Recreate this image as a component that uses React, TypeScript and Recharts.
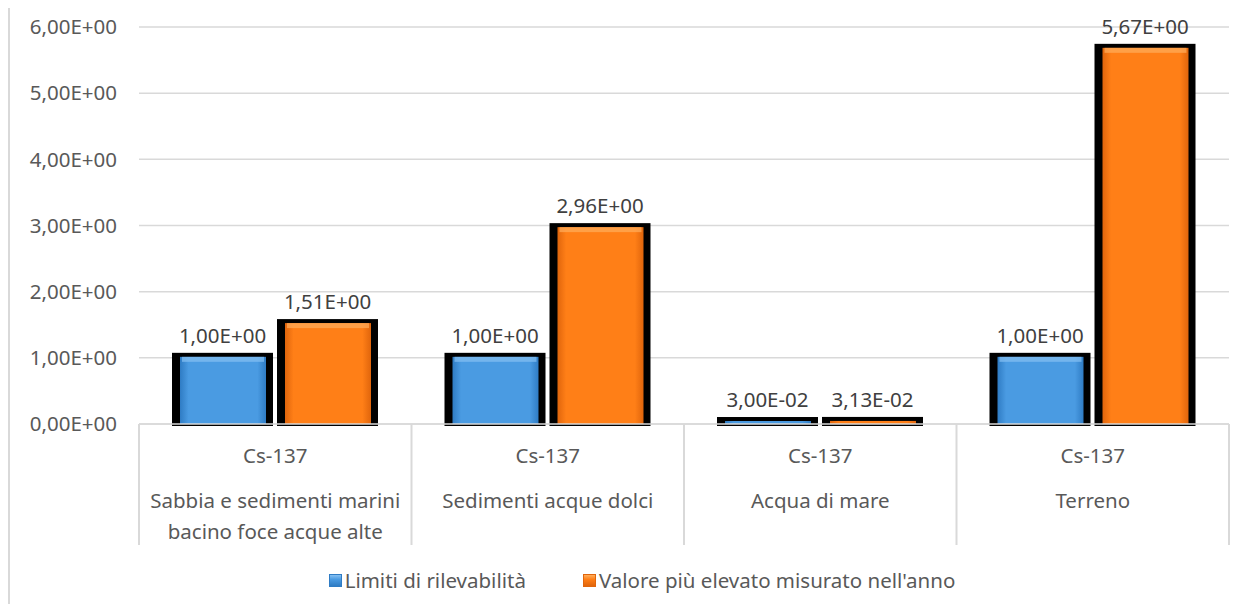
import React from "react"
import { Bar, BarChart, CartesianGrid, LabelList, Legend, XAxis, YAxis } from "recharts"

// Matrici e radionuclide (asse a due livelli)
const matrici = [
  "Sabbia e sedimenti marini\nbacino foce acque alte",
  "Sedimenti acque dolci",
  "Acqua di mare",
  "Terreno",
]
const radionuclidi = ["Cs-137", "Cs-137", "Cs-137", "Cs-137"]

// Valori delle due serie
const limiti = [1.0, 1.0, 0.03, 1.0]
const valoriMax = [1.51, 2.96, 0.0313, 5.67]

const yTicks = [0, 1, 2, 3, 4, 5, 6]

const seriesNames = ["Limiti di rilevabilità", "Valore più elevato misurato nell'anno"]

const data = matrici.map((m, i) => ({
  matrice: m,
  nuclide: radionuclidi[i],
  limiti: limiti[i],
  valore: valoriMax[i],
}))

const W = 1246
const H = 612
const MARGIN = { top: 27, right: 17, left: 0, bottom: 38 }
const Y_AXIS_W = 139
const X_AXIS_H = 120
const LEGEND_H = 30
const PLOT_BOTTOM = H - MARGIN.bottom - X_AXIS_H - LEGEND_H
const BAND = (W - Y_AXIS_W - MARGIN.right) / matrici.length

const FONT = "'Noto Sans', 'Open Sans', sans-serif"
const FS = 20.5
const TEXT = "#595959"
const GRID = "#d9d9d9"

// 1.51 -> "1,51E+00"
function sci(v: number) {
  const [m, e] = v.toExponential(2).split("e")
  const sign = e[0] === "-" ? "-" : "+"
  const digits = e.replace(/[+-]/, "").padStart(2, "0")
  return m.replace(".", ",") + "E" + sign + digits
}

const COLORS = {
  blue: { edge: "#2f7cc4", mid: "#4a9be2", top: "#86c0f2" },
  orange: { edge: "#e0650c", mid: "#ff7f17", top: "#ffae5c" },
}

function makeShape(key: "blue" | "orange") {
  return (props: any) => {
    const { x, y, width, height } = props
    const h = Math.max(height, 0)
    return (
      <g>
        <rect x={x} y={y - 5} width={width} height={h + 7} fill="#000" />
        <rect x={x + 8} y={y - 1} width={width - 15} height={h + 1} fill={`url(#g-${key})`} />
        {h > 8 && (
          <rect x={x + 10} y={y - 1} width={width - 19} height={5} fill={COLORS[key].top} opacity={0.7} />
        )}
      </g>
    )
  }
}

function CategoryTick(props: any) {
  const { x, payload, index } = props
  const lines = String(payload.value).split("\n")
  const left = x - BAND / 2
  const right = x + BAND / 2
  return (
    <g>
      <line x1={left} y1={PLOT_BOTTOM} x2={left} y2={PLOT_BOTTOM + 121} stroke={GRID} strokeWidth={2} />
      {index === matrici.length - 1 && (
        <line x1={right} y1={PLOT_BOTTOM} x2={right} y2={PLOT_BOTTOM + 121} stroke={GRID} strokeWidth={2} />
      )}
      <text x={x} y={PLOT_BOTTOM + 31} textAnchor="middle" dominantBaseline="central" fill={TEXT} fontSize={FS} fontFamily={FONT}>
        {radionuclidi[index]}
      </text>
      {lines.map((l, i) => (
        <text key={i} x={x} y={PLOT_BOTTOM + 76 + i * 31} textAnchor="middle" dominantBaseline="central" fill={TEXT} fontSize={FS} fontFamily={FONT}>
          {l}
        </text>
      ))}
    </g>
  )
}

function LegendContent() {
  const keys: ("blue" | "orange")[] = ["blue", "orange"]
  return (
    <div style={{ height: LEGEND_H, display: "flex", alignItems: "center", justifyContent: "center", paddingLeft: 38, gap: 57, fontFamily: FONT, fontSize: FS, color: TEXT }}>
      {keys.map((k, i) => (
        <div key={k} style={{ display: "flex", alignItems: "center", gap: 3 }}>
          <span style={{ width: 11, height: 11, display: "inline-block", background: `linear-gradient(180deg, ${COLORS[k].top}, ${COLORS[k].mid} 40%, ${COLORS[k].edge})`, border: `1px solid ${COLORS[k].edge}` }} />
          <span>{seriesNames[i]}</span>
        </div>
      ))}
    </div>
  )
}

export default function App() {
  return (
    <div style={{ position: "relative", width: W, height: H, margin: -8, background: "#fff" }}>
      <div style={{ position: "absolute", left: 8, top: 0, width: 2, height: H, background: GRID }} />
      <BarChart width={W} height={H} data={data} margin={MARGIN} barGap={4}>
        <defs>
          {(["blue", "orange"] as const).map((k) => (
            <linearGradient key={k} id={`g-${k}`} x1="0" y1="0" x2="1" y2="0">
              <stop offset="0%" stopColor={COLORS[k].edge} />
              <stop offset="10%" stopColor={COLORS[k].mid} />
              <stop offset="90%" stopColor={COLORS[k].mid} />
              <stop offset="100%" stopColor={COLORS[k].edge} />
            </linearGradient>
          ))}
        </defs>
        <CartesianGrid vertical={false} stroke={GRID} strokeWidth={1.5} />
        <XAxis
          dataKey="matrice"
          height={X_AXIS_H}
          interval={0}
          tickLine={false}
          axisLine={{ stroke: GRID, strokeWidth: 1.5 }}
          tick={<CategoryTick />}
        />
        <YAxis
          width={Y_AXIS_W}
          domain={[0, 6]}
          ticks={yTicks}
          tickFormatter={sci}
          axisLine={false}
          tickLine={false}
          tickSize={0}
          tickMargin={22}
          tick={{ fill: TEXT, fontSize: FS, fontFamily: FONT }}
        />
        <Legend
          verticalAlign="bottom"
          height={LEGEND_H}
          wrapperStyle={{ left: 0, width: W, bottom: 17 }}
          content={<LegendContent />}
        />
        <Bar dataKey="limiti" name={seriesNames[0]} barSize={101} isAnimationActive={false} shape={makeShape("blue")}>
          <LabelList dataKey="limiti" position="top" offset={15} formatter={(v: any) => sci(Number(v))} fill="#404040" fontSize={FS} fontFamily={FONT} />
        </Bar>
        <Bar dataKey="valore" name={seriesNames[1]} barSize={101} isAnimationActive={false} shape={makeShape("orange")}>
          <LabelList dataKey="valore" position="top" offset={15} formatter={(v: any) => sci(Number(v))} fill="#404040" fontSize={FS} fontFamily={FONT} />
        </Bar>
      </BarChart>
    </div>
  )
}
